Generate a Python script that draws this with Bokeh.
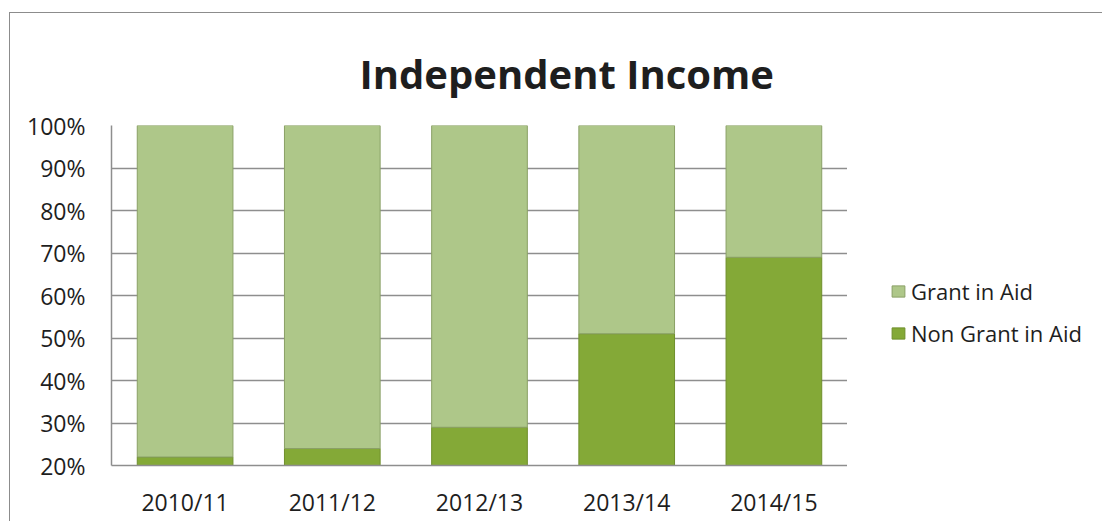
from bokeh.plotting import figure
from bokeh.layouts import row
from bokeh.models import ColumnDataSource, FixedTicker, NumeralTickFormatter, Legend, LegendItem
from bokeh.embed import file_html
from bokeh.resources import INLINE

# ---- data ----
years = ["2010/11", "2011/12", "2012/13", "2013/14", "2014/15"]
non_grant = [0.22, 0.24, 0.29, 0.51, 0.69]
grant = [0.78, 0.76, 0.71, 0.49, 0.31]
y_ticks = [0.2, 0.3, 0.4, 0.5, 0.6, 0.7, 0.8, 0.9, 1.0]
series_labels = ["Non Grant in Aid", "Grant in Aid"]

FONT = "Open Sans"
TEXT = "#1e1e1e"
GRID = "#8e8e8e"
FILLS = ["#84a937", "#aec789"]
EDGES = ["#6f8f2c", "#8aa066"]

src = ColumnDataSource(dict(year=years, non_grant=non_grant, grant=grant))

H = 508
p = figure(
    x_range=years, y_range=(0.2, 1.0),
    width=837, height=H,
    output_backend="svg", toolbar_location=None,
    min_border_left=101, min_border_right=0,
    min_border_top=112, min_border_bottom=56,
)
p.outline_line_color = None

rs = p.vbar_stack(
    ["non_grant", "grant"], x="year", width=0.65, source=src,
    fill_color=FILLS, line_color=EDGES, line_width=1,
)

# title
p.title.text = "Independent Income"
p.title.align = "left"
p.title.offset = 248
p.title.standoff = 50
p.title.text_font = FONT
p.title.text_font_size = "40px"
p.title.text_font_style = "bold"
p.title.text_color = TEXT

# axes
p.xgrid.visible = False
p.ygrid.ticker = FixedTicker(ticks=y_ticks)
p.ygrid.grid_line_color = GRID
p.ygrid.grid_line_width = 1.5

p.yaxis.ticker = FixedTicker(ticks=y_ticks)
p.yaxis.formatter = NumeralTickFormatter(format="0%")
for ax in (p.xaxis[0], p.yaxis[0]):
    ax.axis_line_color = GRID
    ax.axis_line_width = 1.5
    ax.major_tick_line_color = None
    ax.minor_tick_line_color = None
    ax.major_label_text_font = FONT
    ax.major_label_text_font_size = "23px"
    ax.major_label_text_color = TEXT
p.yaxis.major_label_standoff = 20
p.xaxis.major_label_standoff = 14

# legend panel (separate canvas to the right of the plot area);
# a numeric view range there means the category bars themselves are not drawn
q = figure(
    width=255, height=H, x_range=(0, 1), y_range=(0, 1),
    x_axis_type=None, y_axis_type=None,
    output_backend="svg", toolbar_location=None,
    min_border=0, title=None,
)
q.outline_line_color = None
q.xgrid.visible = False
q.ygrid.visible = False
qs = q.vbar_stack(
    ["non_grant", "grant"], x="year", width=0.65, source=src,
    fill_color=FILLS, line_color=EDGES, line_width=1,
)

legend = Legend(
    items=[LegendItem(label=series_labels[1], renderers=[qs[1]]),
           LegendItem(label=series_labels[0], renderers=[qs[0]])],
    location=(43, 117),
    border_line_color=None, background_fill_alpha=0,
    padding=0, margin=0, spacing=12,
    glyph_width=16, glyph_height=14, label_standoff=5,
    label_height=22,
    label_text_font=FONT, label_text_font_size="22px", label_text_color=TEXT,
)
q.add_layout(legend, "center")

layout = row(p, q, spacing=0)
layout.styles = {"border-top": "1px solid #8c8c8c", "border-left": "1px solid #8c8c8c",
                 "margin-top": "12px", "margin-left": "9px"}

open("out.html", "w").write(file_html(layout, INLINE))
